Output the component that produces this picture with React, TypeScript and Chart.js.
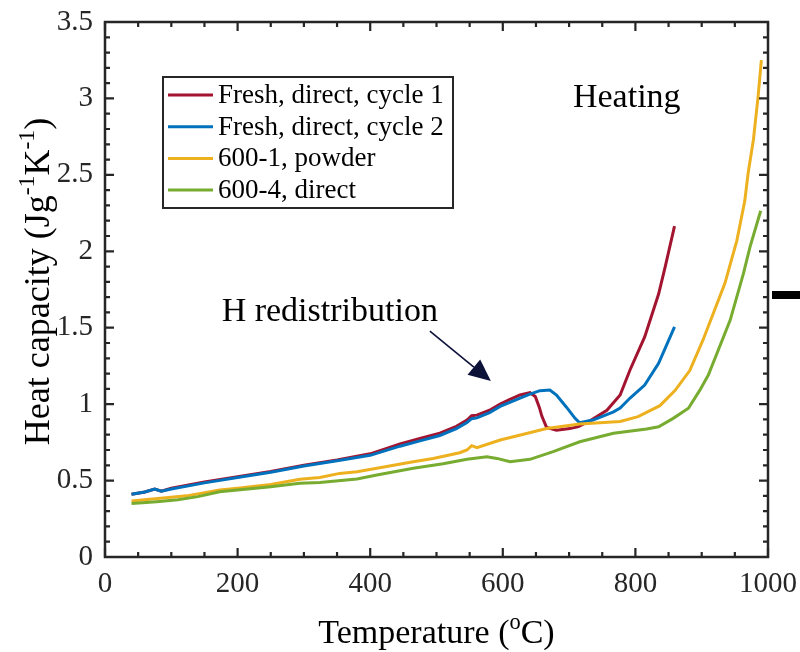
import React, { useEffect, useRef } from "react";
import { Chart, registerables } from "chart.js";

Chart.register(...registerables);

const FONT = '"Liberation Serif", "Times New Roman", serif';
const INK = "#262626";

// ---- data ----
const seriesNames = [
  "Fresh, direct, cycle 1",
  "Fresh, direct, cycle 2",
  "600-1, powder",
  "600-4, direct",
];
const seriesColors = ["#A2142F", "#0072BD", "#EDB120", "#77AC30"];

const cycle1T = [40, 60, 75, 85, 100, 150, 200, 250, 300, 350, 400, 445, 475, 505, 530, 546, 553, 561, 580, 596, 610, 626, 641, 649, 655, 659, 666, 681, 701, 714, 731, 757, 777, 792, 814, 835, 845, 859];
const cycle1Cp = [0.41, 0.425, 0.445, 0.43, 0.45, 0.49, 0.525, 0.56, 0.6, 0.635, 0.675, 0.74, 0.775, 0.81, 0.855, 0.896, 0.924, 0.928, 0.96, 1.0, 1.03, 1.06, 1.075, 1.05, 0.98, 0.92, 0.848, 0.83, 0.84, 0.853, 0.89, 0.96, 1.06, 1.225, 1.44, 1.72, 1.9, 2.165];

const cycle2T = [40, 60, 75, 85, 100, 150, 200, 250, 300, 350, 400, 445, 475, 505, 530, 546, 553, 561, 580, 596, 626, 641, 656, 671, 681, 696, 709, 716, 736, 767, 777, 792, 814, 835, 859];
const cycle2Cp = [0.41, 0.425, 0.445, 0.43, 0.445, 0.485, 0.52, 0.555, 0.595, 0.63, 0.665, 0.725, 0.76, 0.795, 0.84, 0.88, 0.905, 0.91, 0.945, 0.985, 1.04, 1.066, 1.088, 1.092, 1.06, 0.98, 0.907, 0.878, 0.896, 0.95, 0.975, 1.04, 1.125, 1.267, 1.506];

const powderT = [40, 123, 173, 200, 250, 294, 324, 354, 380, 410, 465, 495, 535, 546, 553, 561, 596, 616, 666, 716, 777, 804, 837, 860, 882, 902, 935, 953, 965, 970, 978, 985, 990];
const powderCp = [0.366, 0.4, 0.438, 0.45, 0.475, 0.508, 0.52, 0.547, 0.558, 0.58, 0.623, 0.645, 0.682, 0.7, 0.728, 0.715, 0.765, 0.787, 0.84, 0.87, 0.887, 0.918, 0.99, 1.09, 1.22, 1.42, 1.79, 2.07, 2.33, 2.51, 2.73, 3.01, 3.25];

const directT = [40, 78, 110, 140, 173, 250, 294, 324, 380, 410, 465, 510, 546, 576, 591, 611, 641, 676, 716, 767, 817, 835, 857, 880, 897, 910, 943, 963, 973, 989];
const directCp = [0.35, 0.362, 0.375, 0.395, 0.427, 0.46, 0.482, 0.488, 0.51, 0.536, 0.58, 0.61, 0.64, 0.656, 0.645, 0.623, 0.639, 0.689, 0.754, 0.809, 0.837, 0.852, 0.907, 0.973, 1.09, 1.19, 1.55, 1.855, 2.03, 2.265];

const seriesT = [cycle1T, cycle2T, powderT, directT];
const seriesCp = [cycle1Cp, cycle2Cp, powderCp, directCp];

// axis settings
const X_MIN = 0, X_MAX = 1000, X_STEP = 200, X_MINOR = 50;
const Y_MIN = 0, Y_MAX = 3.5, Y_STEP = 0.5, Y_MINOR = 0.1;

// annotations (data coordinates)
const heatingLabel = { text: "Heating", x: 787, y: 3.0 };
const redistLabel = { text: "H redistribution", x: 339, y: 1.6 };
const arrowFrom = { x: 490, y: 1.478 };
const arrowTo = { x: 582, y: 1.151 };

type Part = { t: string; sup?: boolean };

function richWidth(ctx: CanvasRenderingContext2D, parts: Part[], size: number) {
  let w = 0;
  for (const p of parts) {
    ctx.font = `${p.sup ? size * 0.66 : size}px ${FONT}`;
    w += ctx.measureText(p.t).width;
  }
  return w;
}

function drawRich(ctx: CanvasRenderingContext2D, parts: Part[], cx: number, cy: number, size: number) {
  const total = richWidth(ctx, parts, size);
  let x = cx - total / 2;
  ctx.textAlign = "left";
  ctx.textBaseline = "alphabetic";
  const base = cy + size * 0.33;
  for (const p of parts) {
    const s = p.sup ? size * 0.66 : size;
    ctx.font = `${s}px ${FONT}`;
    ctx.fillText(p.t, x, p.sup ? base - size * 0.42 : base);
    x += ctx.measureText(p.t).width;
  }
}

const decorPlugin = {
  id: "decor",
  afterDraw(chart: any) {
    const { ctx, chartArea: a, scales } = chart;
    const xs = scales.x;
    const ys = scales.y;
    ctx.save();

    // inward ticks on all four sides
    ctx.strokeStyle = INK;
    ctx.lineWidth = 2.2;
    const nx = Math.round((X_MAX - X_MIN) / X_MINOR);
    for (let i = 0; i <= nx; i++) {
      const v = X_MIN + i * X_MINOR;
      const px = xs.getPixelForValue(v);
      const major = (i * X_MINOR) % X_STEP === 0;
      const len = major ? 9 : 5;
      ctx.beginPath();
      ctx.moveTo(px, a.bottom);
      ctx.lineTo(px, a.bottom - len);
      ctx.moveTo(px, a.top);
      ctx.lineTo(px, a.top + len);
      ctx.stroke();
    }
    const ny = Math.round((Y_MAX - Y_MIN) / Y_MINOR);
    const perMajor = Math.round(Y_STEP / Y_MINOR);
    for (let i = 0; i <= ny; i++) {
      const v = Y_MIN + i * Y_MINOR;
      const py = ys.getPixelForValue(v);
      const major = i % perMajor === 0;
      const len = major ? 9 : 5;
      ctx.beginPath();
      ctx.moveTo(a.left, py);
      ctx.lineTo(a.left + len, py);
      ctx.moveTo(a.right, py);
      ctx.lineTo(a.right - len, py);
      ctx.stroke();
    }

    // box
    ctx.lineWidth = 2.5;
    ctx.strokeRect(a.left, a.top, a.right - a.left, a.bottom - a.top);

    // legend
    const lx = a.left + 58;
    const ly = a.top + 55;
    const lw = 290;
    const lh = 131;
    ctx.fillStyle = "#fff";
    ctx.fillRect(lx, ly, lw, lh);
    ctx.lineWidth = 2;
    ctx.strokeStyle = INK;
    ctx.strokeRect(lx, ly, lw, lh);
    ctx.font = `27px ${FONT}`;
    ctx.textAlign = "left";
    ctx.textBaseline = "middle";
    seriesNames.forEach((name, i) => {
      const ry = ly + 18 + i * 31.7;
      ctx.strokeStyle = seriesColors[i];
      ctx.lineWidth = 3;
      ctx.beginPath();
      ctx.moveTo(lx + 5, ry);
      ctx.lineTo(lx + 50, ry);
      ctx.stroke();
      ctx.fillStyle = "#000";
      ctx.fillText(name, lx + 55, ry + 1);
    });

    // text annotations
    ctx.fillStyle = "#000";
    ctx.font = `34px ${FONT}`;
    ctx.textAlign = "center";
    ctx.textBaseline = "middle";
    ctx.fillText(heatingLabel.text, xs.getPixelForValue(heatingLabel.x), ys.getPixelForValue(heatingLabel.y));
    ctx.fillText(redistLabel.text, xs.getPixelForValue(redistLabel.x), ys.getPixelForValue(redistLabel.y));

    // arrow
    const x0 = xs.getPixelForValue(arrowFrom.x), y0 = ys.getPixelForValue(arrowFrom.y);
    const x1 = xs.getPixelForValue(arrowTo.x), y1 = ys.getPixelForValue(arrowTo.y);
    const ang = Math.atan2(y1 - y0, x1 - x0);
    const headLen = 22, headHalf = 10;
    const bx = x1 - headLen * Math.cos(ang), by = y1 - headLen * Math.sin(ang);
    ctx.strokeStyle = "#0c1238";
    ctx.fillStyle = "#0c1238";
    ctx.lineWidth = 1.6;
    ctx.beginPath();
    ctx.moveTo(x0, y0);
    ctx.lineTo(bx, by);
    ctx.stroke();
    ctx.beginPath();
    ctx.moveTo(x1, y1);
    ctx.lineTo(bx + headHalf * Math.sin(ang), by - headHalf * Math.cos(ang));
    ctx.lineTo(bx - headHalf * Math.sin(ang), by + headHalf * Math.cos(ang));
    ctx.closePath();
    ctx.fill();

    // axis titles
    ctx.fillStyle = "#000";
    drawRich(ctx, [{ t: "Temperature (" }, { t: "o", sup: true }, { t: "C)" }], (a.left + a.right) / 2, a.bottom + 75, 34);
    ctx.save();
    ctx.translate(37, (a.top + a.bottom) / 2 - 8);
    ctx.rotate(-Math.PI / 2);
    drawRich(
      ctx,
      [{ t: "Heat capacity (Jg" }, { t: "-1", sup: true }, { t: "K" }, { t: "-1", sup: true }, { t: ")" }],
      0,
      0,
      36
    );
    ctx.restore();

    // cropped neighbouring-figure mark at right edge
    ctx.fillStyle = "#000";
    ctx.fillRect(chart.width - 28, 291, 28, 8);

    ctx.restore();
  },
};

export default function App() {
  const ref = useRef<HTMLCanvasElement | null>(null);

  useEffect(() => {
    if (!ref.current) return;
    const datasets = seriesNames.map((name, i) => ({
      label: name,
      data: seriesT[i].map((t, j) => ({ x: t, y: seriesCp[i][j] })),
      borderColor: seriesColors[i],
      backgroundColor: seriesColors[i],
      borderWidth: 3,
      pointRadius: 0,
      tension: 0,
      fill: false,
      order: seriesNames.length - i,
    }));
    const chart = new Chart(ref.current, {
      type: "line",
      data: { datasets },
      options: {
        responsive: false,
        animation: false,
        layout: { padding: { top: 22, right: 32, left: 0, bottom: 0 } },
        plugins: { legend: { display: false }, tooltip: { enabled: false } },
        scales: {
          x: {
            type: "linear",
            min: X_MIN,
            max: X_MAX,
            grid: { display: false, drawTicks: true, tickLength: 10 },
            border: { display: false },
            ticks: {
              stepSize: X_STEP,
              color: INK,
              font: { family: FONT, size: 29 },
              padding: 0,
              maxRotation: 0,
              callback: (v: any) => String(v),
            },
            afterFit: (s: any) => {
              s.height = 95;
            },
          },
          y: {
            type: "linear",
            min: Y_MIN,
            max: Y_MAX,
            grid: { display: false, drawTicks: true, tickLength: 12 },
            border: { display: false },
            ticks: {
              stepSize: Y_STEP,
              color: INK,
              font: { family: FONT, size: 29 },
              padding: 0,
              callback: (v: any) => String(Math.round(Number(v) * 10) / 10),
            },
            afterFit: (s: any) => {
              s.width = 105;
            },
          },
        },
      },
      plugins: [decorPlugin],
    });
    return () => chart.destroy();
  }, []);

  return (
    <div style={{ position: "fixed", left: 0, top: 0, width: 800, height: 652, background: "#fff" }}>
      <canvas ref={ref} width={800} height={652} style={{ display: "block" }} />
    </div>
  );
}
